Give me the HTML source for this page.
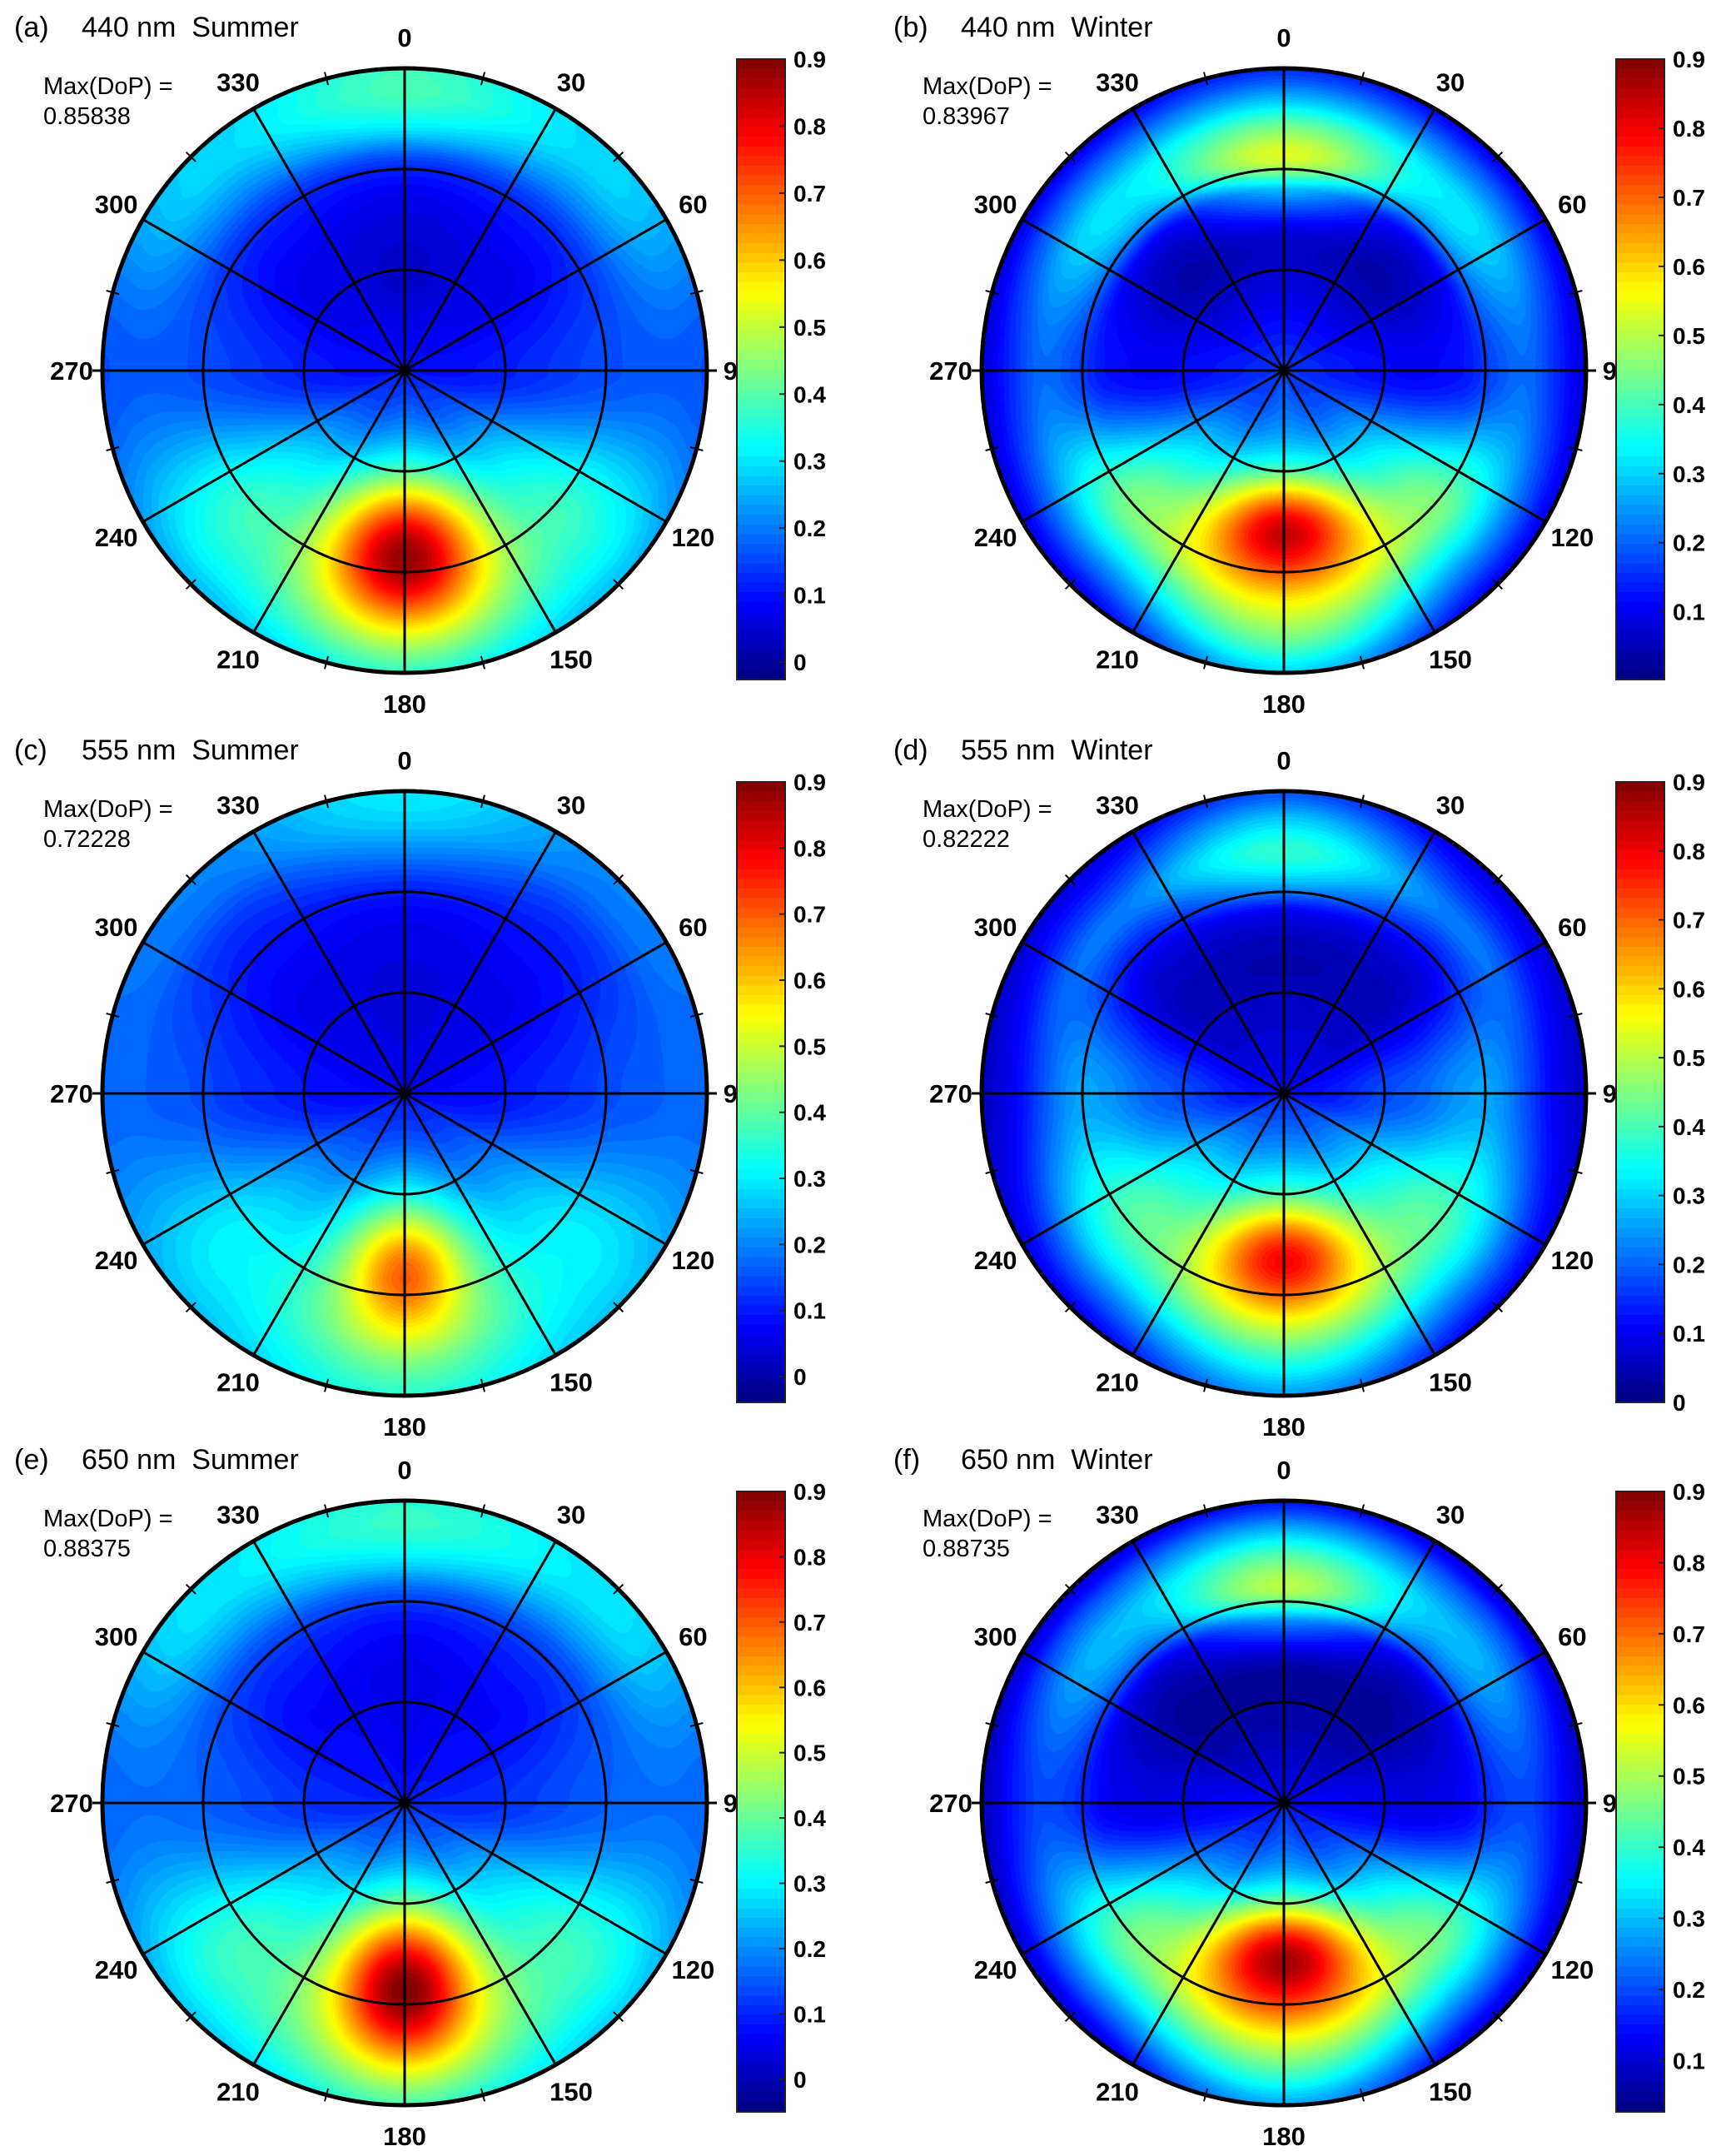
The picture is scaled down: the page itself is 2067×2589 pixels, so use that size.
<!DOCTYPE html>
<html><head><meta charset="utf-8">
<style>
html,body{margin:0;padding:0;background:#fff;}
#fig{position:relative;width:2067px;height:2589px;overflow:hidden;background:#fff;}
canvas{position:absolute;}
svg{position:absolute;left:0;top:0;}
</style></head>
<body>
<div id="fig"></div>
<script>
// ---- data ----
const radii = [0,0.15,0.3,0.45,0.6,0.7,0.8,0.9,1.0];
const profileDirs = [0,45,90,135,180];
const panelIds = ['a','b','c','d','e','f'];
const panelTitles = ['440 nm  Summer','440 nm  Winter','555 nm  Summer','555 nm  Winter','650 nm  Summer','650 nm  Winter'];
const maxDoP = ['0.85838','0.83967','0.72228','0.82222','0.88375','0.88735'];
const vmins = [-0.026,0.002,-0.039,0.0,-0.05,0.028];
const vmax = 0.9;
const cbTicksA = ['0','0.1','0.2','0.3','0.4','0.5','0.6','0.7','0.8','0.9'];
const cbTicksB = ['0.1','0.2','0.3','0.4','0.5','0.6','0.7','0.8','0.9'];
const cbTickSets = [cbTicksA,cbTicksB,cbTicksA,cbTicksA,cbTicksA,cbTicksB];
const angleLabels = [0,30,60,90,120,150,180,210,240,270,300,330];

const profA = [[.10,.07,.04,.05,.08,.15,.30,.38,.38],[.10,.08,.07,.07,.10,.14,.22,.28,.28],[.10,.10,.11,.13,.15,.16,.17,.17,.16],[.12,.15,.22,.30,.36,.38,.36,.32,.26],[.12,.18,.28,.40,.48,.50,.48,.42,.35]];
const profB = [[.17,.12,.08,.08,.28,.53,.45,.28,.15],[.16,.12,.07,.04,.10,.28,.32,.22,.10],[.16,.14,.12,.11,.13,.18,.21,.15,.08],[.16,.18,.26,.35,.44,.44,.34,.21,.10],[.18,.22,.30,.42,.48,.52,.50,.42,.30]];
const profC = [[.06,.05,.04,.05,.07,.12,.20,.27,.30],[.07,.06,.06,.06,.08,.10,.13,.18,.20],[.08,.08,.09,.11,.13,.15,.16,.17,.17],[.10,.13,.18,.24,.29,.31,.31,.29,.26],[.10,.15,.25,.35,.42,.45,.45,.40,.35]];
const profD = [[.11,.08,.06,.04,.10,.28,.38,.30,.18],[.11,.08,.06,.05,.08,.15,.22,.15,.08],[.12,.13,.17,.20,.25,.25,.18,.10,.06],[.15,.20,.28,.36,.42,.40,.32,.20,.10],[.15,.22,.32,.42,.48,.50,.45,.35,.25]];
const profE = [[.08,.06,.05,.05,.08,.15,.28,.35,.35],[.09,.08,.07,.07,.10,.14,.22,.28,.28],[.10,.10,.11,.13,.15,.16,.17,.17,.16],[.12,.15,.22,.29,.35,.37,.36,.32,.26],[.12,.18,.28,.40,.48,.50,.48,.42,.35]];
const profF = [[.12,.09,.06,.06,.25,.50,.45,.30,.15],[.12,.09,.06,.05,.10,.25,.30,.22,.10],[.13,.13,.12,.11,.13,.18,.20,.15,.08],[.15,.18,.25,.35,.44,.44,.35,.22,.10],[.18,.22,.30,.45,.52,.55,.50,.40,.28]];
const profiles = [profA,profB,profC,profD,profE,profF];
// blob: [amplitude, radial position toward 180, sigma-x, sigma-y]
const blobAmp = [0.40,0.38,0.28,0.33,0.42,0.38];
const blobPos = [0.60,0.53,0.58,0.54,0.60,0.51];
const blobSx = [0.17,0.18,0.13,0.17,0.15,0.19];
const blobSy = [0.16,0.12,0.14,0.12,0.17,0.13];

// ---- layout ----
const colX = [486,1542], rowY = [445,1313,2165], R = 363;
const NS = 'http://www.w3.org/2000/svg';
const fig = document.getElementById('fig');
const svg = document.createElementNS(NS,'svg');
svg.setAttribute('width','2067'); svg.setAttribute('height','2589');



function jet(t){
  t=Math.max(0,Math.min(1,t));
  const c=v=>Math.round(255*Math.max(0,Math.min(1,v)));
  return [c(1.5-Math.abs(4*t-3)),c(1.5-Math.abs(4*t-2)),c(1.5-Math.abs(4*t-1))];
}
function cr(p0,p1,p2,p3,t){return 0.5*((2*p1)+(-p0+p2)*t+(2*p0-5*p1+4*p2-p3)*t*t+(-p0+3*p1-3*p2+p3)*t*t*t);}
function radial(arr,r){
  let i=0; while(i<radii.length-2 && r>radii[i+1]) i++;
  const t=(r-radii[i])/(radii[i+1]-radii[i]);
  const p0=arr[Math.max(0,i-1)],p1=arr[i],p2=arr[i+1],p3=arr[Math.min(arr.length-1,i+2)];
  return cr(p0,p1,p2,p3,t);
}
function fieldVal(k,r,th){
  let a=th%360; if(a<0)a+=360; if(a>180)a=360-a;
  let j=Math.min(3,Math.floor(a/45)); let t=(a-profileDirs[j])/45; t=(1-Math.cos(Math.PI*t))/2;
  const P=profiles[k];
  let v=radial(P[j],r)*(1-t)+radial(P[j+1],r)*t;
  const x=r*Math.sin(th*Math.PI/180), y=-r*Math.cos(th*Math.PI/180);
  v+=blobAmp[k]*Math.exp(-0.5*((x/blobSx[k])**2+((y-blobPos[k])/blobSy[k])**2));
  return v;
}
function el(tag,attrs,parent){const e=document.createElementNS(NS,tag);for(const k in attrs)e.setAttribute(k,attrs[k]);(parent||svg).appendChild(e);return e;}

const defs=el('defs',{});
panelIds.forEach((id,k)=>{
  const g=el('linearGradient',{id:'grad'+id,x1:'0',y1:'1',x2:'0',y2:'0'},defs);
  const N=64;
  for(let i=0;i<N;i++){
    const cc=jet((i+0.5)/N);
    const col='rgb('+cc.join(',')+')';
    el('stop',{offset:(i/N),'stop-color':col},g);
    el('stop',{offset:((i+1)/N),'stop-color':col},g);
  }
});

panelIds.forEach((id,k)=>{
  const cx=colX[k%2], cy=rowY[Math.floor(k/2)];
  const vmin=vmins[k];
  const cv=document.createElement('canvas');
  cv.width=2*R+2; cv.height=2*R+2;
  cv.style.left=(cx-R-1)+'px'; cv.style.top=(cy-R-1)+'px';
  
  
  const ctx=cv.getContext('2d');
  const img=ctx.createImageData(cv.width,cv.height);
  for(let py=0;py<cv.height;py++){
    for(let px=0;px<cv.width;px++){
      const dx=px-R-1, dy=py-R-1; const rr=Math.sqrt(dx*dx+dy*dy)/R;
      if(rr>1.003) continue;
      const th=Math.atan2(dx,-dy)*180/Math.PI;
      let v=fieldVal(k,Math.min(1,rr),th);
      let t=(v-vmin)/(vmax-vmin); t=(Math.floor(t*64)+0.5)/64;
      const c=jet(t); const o=(py*cv.width+px)*4;
      img.data[o]=c[0];img.data[o+1]=c[1];img.data[o+2]=c[2];img.data[o+3]=255;
    }
  }
  ctx.putImageData(img,0,0);
  fig.appendChild(cv);

  const grp=el('g',{});
  
  
  [1/3,2/3].forEach((f,i)=>{
    const c=el('circle',{cx:cx,cy:cy,r:R*f,fill:'none',stroke:'#000','stroke-width':3},grp);
    
    
  });
  for(let a=0;a<180;a+=30){
    const s=Math.sin(a*Math.PI/180), c=Math.cos(a*Math.PI/180);
    const ext=(a===90)?R+12:R;
    const ln=el('line',{x1:cx-s*ext,y1:cy+c*R,x2:cx+s*ext,y2:cy-c*R,stroke:'#000','stroke-width':3},grp);
    
    
  }
  for(let a=15;a<360;a+=30){
    const s=Math.sin(a*Math.PI/180), c=Math.cos(a*Math.PI/180);
    const tk=el('line',{x1:cx+s*(R-8),y1:cy-c*(R-8),x2:cx+s*(R+8),y2:cy-c*(R+8),stroke:'#000','stroke-width':2},grp);
    
    
  }
  const oc=el('circle',{cx:cx,cy:cy,r:R,fill:'none',stroke:'#000','stroke-width':5},grp);
  
  
  angleLabels.forEach(a=>{
    const s=Math.sin(a*Math.PI/180), c=Math.cos(a*Math.PI/180);
    const tx=el('text',{x:cx+s*400,y:cy-c*400+11,'text-anchor':'middle','font-family':'Liberation Sans, sans-serif','font-weight':'bold','font-size':31},grp);
    tx.textContent=String(a);
    
    
  });
  const t1=el('text',{x:cx-469,y:cy-401,'font-family':'Liberation Sans, sans-serif','font-size':34},grp);
  t1.textContent='('+id+')';
  
  
  const t2=el('text',{x:cx-388,y:cy-401,'font-family':'Liberation Sans, sans-serif','font-size':34,style:'white-space:pre'},grp);
  t2.textContent=panelTitles[k];
  
  
  const m1=el('text',{x:cx-434,y:cy-332,'font-family':'Liberation Sans, sans-serif','font-size':29},grp);
  m1.textContent='Max(DoP) =';
  
  
  const m2=el('text',{x:cx-434,y:cy-296,'font-family':'Liberation Sans, sans-serif','font-size':29},grp);
  m2.textContent=maxDoP[k];
  
  
  const bx=cx+399, by=cy-374, bw=58, bh=745;
  const cb=el('rect',{x:bx,y:by,width:bw,height:bh,fill:'url(#grad'+id+')',stroke:'#222','stroke-width':2},grp);
  
  
  const yOf=v=>by+bh-(v-vmin)/(vmax-vmin)*bh;
  cbTickSets[k].forEach(lbl=>{
    const v=parseFloat(lbl), y=yOf(v);
    const tk=el('line',{x1:bx+bw-7,y1:y,x2:bx+bw,y2:y,stroke:'#222','stroke-width':2},grp);
    
    
    const tx=el('text',{x:bx+bw+10,y:y+10,'font-family':'Liberation Sans, sans-serif','font-weight':'bold','font-size':28},grp);
    tx.textContent=lbl;
    
    
  });
});
fig.appendChild(svg);
</script>
</body></html>
